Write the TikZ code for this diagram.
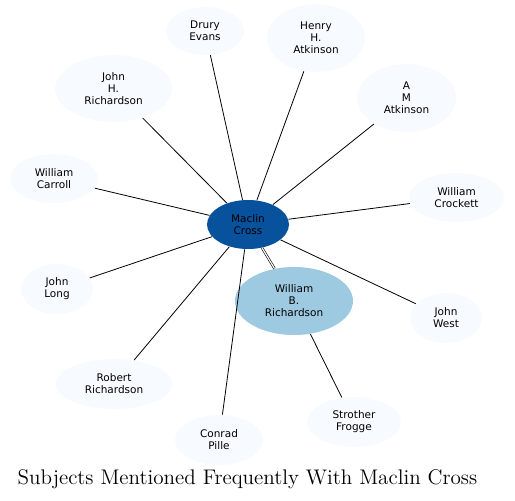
\documentclass[tikz,border=0pt]{standalone}
\usepackage{fontspec}
\usetikzlibrary{shapes.geometric}
\newfontfamily\namefont{DejaVu Sans}
\definecolor{hubblue}{HTML}{08519C}
\definecolor{midblue}{HTML}{9ECAE1}
\definecolor{paleblue}{HTML}{F7FBFF}
\begin{document}
\begin{tikzpicture}[x=1pt,y=-1pt,line width=0.8pt,
		person/.style={ellipse,fill=paleblue,inner sep=0pt,align=center,
			font={\namefont\fontsize{10.5}{12}\selectfont}}]
				\useasboundingbox (0,0) rectangle (515,501);
				
				\node[person,fill=hubblue,minimum width=82,minimum height=49] (cross) at (248,224.5) {Maclin\\Cross};
				\node[person,fill=midblue,minimum width=118,minimum height=68] (wbrich) at (294,301) {William\\B.\\Richardson};
				\node[person,minimum width=78,minimum height=48] (evans) at (205,31) {Drury\\Evans};
				\node[person,minimum width=98,minimum height=68] (hatkin) at (316,38) {Henry\\H.\\Atkinson};
				\node[person,minimum width=117,minimum height=67] (jhrich) at (113.5,88.5) {John\\H.\\Richardson};
				\node[person,minimum width=99,minimum height=68] (matkin) at (406.5,98) {A\\M\\Atkinson};
				\node[person,minimum width=88,minimum height=49] (carroll) at (54,178.5) {William\\Carroll};
				\node[person,minimum width=95,minimum height=49] (crockett) at (456.5,197.5) {William\\Crockett};
				\node[person,minimum width=72,minimum height=50] (long) at (57,289) {John\\Long};
				\node[person,minimum width=72,minimum height=50] (west) at (446,318) {John\\West};
				\node[person,minimum width=117,minimum height=50] (rrich) at (114,384) {Robert\\Richardson};
				\node[person,minimum width=88,minimum height=50] (pille) at (219,440) {Conrad\\Pille};
				\node[person,minimum width=94,minimum height=50] (frogge) at (354,422) {Strother\\Frogge};
				
				\node[scale=1.76] (title) at (247.5,479) {\fontsize{12}{14}\selectfont Subjects Mentioned Frequently With Maclin Cross};
				
				\draw (cross)--(evans);
				\draw (cross)--(hatkin);
				\draw (cross)--(jhrich);
				\draw (cross)--(matkin);
				\draw (cross)--(carroll);
				\draw (cross)--(crockett);
				\draw (cross)--(long);
				\draw (cross)--(west);
				\draw (cross)--(rrich);
				\draw (cross)--(pille);
				\draw[line width=0.6pt,double,double distance=1.2pt] (cross)--(wbrich);
				\draw (wbrich)--(frogge);
			\end{tikzpicture}
\end{document}
